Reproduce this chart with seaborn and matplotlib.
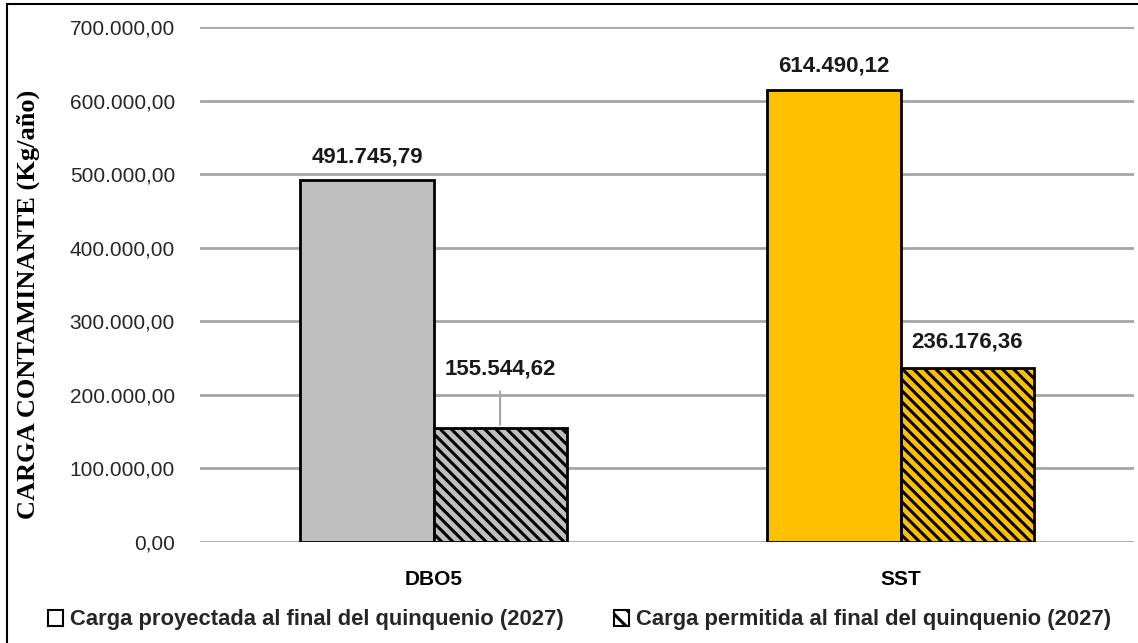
import numpy as np
import pandas as pd
import matplotlib
matplotlib.use("Agg")
import matplotlib.pyplot as plt
import seaborn as sns
from matplotlib.patches import Patch
from matplotlib.lines import Line2D

# ---- data ----
categories = ["DBO5", "SST"]
series_names = ["Carga proyectada al final del quinquenio (2027)",
                "Carga permitida al final del quinquenio (2027)"]
proyectada = [491745.79, 614490.12]
permitida = [155544.62, 236176.36]
yticks = [0, 100000, 200000, 300000, 400000, 500000, 600000, 700000]
cat_colors = ["#BFBFBF", "#FFC000"]

def fmt(v):
    s = f"{v:,.2f}"
    return s.replace(",", "X").replace(".", ",").replace("X", ".")

df = pd.DataFrame({
    "Parametro": categories * 2,
    "Serie": [series_names[0]] * 2 + [series_names[1]] * 2,
    "Carga": proyectada + permitida,
})

sns.set_theme(style="white")
plt.rcParams["font.family"] = ["Liberation Sans", "DejaVu Sans"]
plt.rcParams["hatch.linewidth"] = 2.2
plt.rcParams["hatch.color"] = "black"

fig = plt.figure(figsize=(11.38, 6.43), dpi=100)
ax = fig.add_axes([200 / 1138, 1 - 542 / 643, 934 / 1138, (542 - 27) / 643])

sns.barplot(data=df, x="Parametro", y="Carga", hue="Serie", hue_order=series_names,
            order=categories, width=0.57, edgecolor="black", linewidth=2,
            palette=["white", "white"], ax=ax, legend=False, errorbar=None, zorder=3)

# recolor by category, hatch 2nd series
for si, cont in enumerate(ax.containers):
    for ci, bar in enumerate(cont):
        bar.set_facecolor(cat_colors[ci])
        bar.set_edgecolor("black")
        bar.set_linewidth(2)
        if si == 1:
            bar.set_hatch("\\\\\\")

ax.set_ylim(0, 700000)
ax.set_yticks(yticks)
ax.set_yticklabels([fmt(v) for v in yticks], fontsize=15, color="#262626")
ax.tick_params(axis="y", length=0, pad=18)
ax.tick_params(axis="x", length=0, pad=20)
for lab in ax.get_xticklabels():
    lab.set_fontweight("bold")
    lab.set_fontsize(15)
    lab.set_color("black")
ax.yaxis.grid(True, color="#A6A6A6", linewidth=2, zorder=0)
ax.set_axisbelow(True)
for sp in ax.spines.values():
    sp.set_visible(False)
ax.set_xlabel("")
ax.set_ylabel("CARGA CONTAMINANTE (Kg/año)", fontfamily=["Liberation Serif", "DejaVu Serif"],
              fontweight="bold", fontsize=19, color="black")
ax.yaxis.set_label_coords(-160 / 934, 0.462)

# data labels
offsets = [[17, 17], [42, 19]]  # [series][category] in points
for si, cont in enumerate(ax.containers):
    vals = proyectada if si == 0 else permitida
    for ci, bar in enumerate(cont):
        xc = bar.get_x() + bar.get_width() / 2
        off = offsets[si][ci]
        ax.annotate(fmt(vals[ci]), xy=(xc, vals[ci]), xytext=(0, off), textcoords="offset points",
                    ha="center", va="center", fontsize=16, fontweight="bold", color="#1a1a1a")
        if si == 1 and ci == 0:
            ax.annotate("", xy=(xc, vals[ci]), xytext=(0, 28), textcoords="offset points",
                        arrowprops=dict(arrowstyle="-", color="#A6A6A6", lw=1.5), zorder=4)

handles = [Patch(facecolor="white", edgecolor="black", linewidth=1.5),
           Patch(facecolor="white", edgecolor="black", linewidth=1.5, hatch="\\\\")]
fig.legend(handles, series_names, loc="center", bbox_to_anchor=(0.509, 1 - 620 / 643), ncol=2,
           frameon=False, prop=dict(weight="bold", size=15.8), handlelength=0.7, handleheight=0.7,
           handletextpad=0.3, columnspacing=2.3)

# chart frame (left and top border)
fig.add_artist(Line2D([7 / 1138, 7 / 1138], [0, 1 - 4 / 643], transform=fig.transFigure, color="black", lw=1.5))
fig.add_artist(Line2D([7 / 1138, 1], [1 - 4 / 643, 1 - 4 / 643], transform=fig.transFigure, color="black", lw=1.5))

fig.savefig("out.png", dpi=100)
